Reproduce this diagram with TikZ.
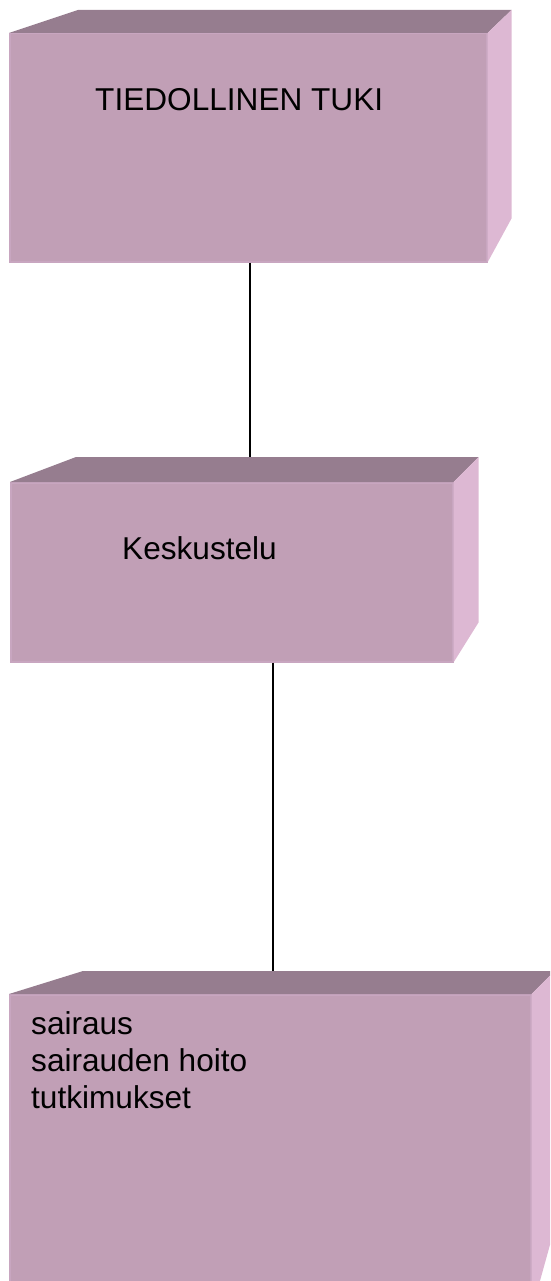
\documentclass[tikz,border=0pt]{standalone}
\usepackage{fontspec}
\setmainfont{Liberation Sans}
\usepackage{xcolor}
\definecolor{fronte}{HTML}{C19FB6}
\definecolor{sopra}{HTML}{967D8F}
\definecolor{lato}{HTML}{DDB8D3}
\definecolor{bordo}{HTML}{C8A6C0}
\tikzset{
    faccia/.style={
        fill=fronte, draw=bordo, line width=1.5pt,
        inner sep=0pt, anchor=north west
    },
    testo/.style={
        inner sep=0pt, anchor=base west,
        font=\fontsize{31.6}{37}\selectfont
    },
    linea/.style={black, line width=1.3pt}
}
% scatola 3D: #1 nodo, #2 dx angolo sinistro, #3 profondita, #4 altezza faccia sopra, #5 salto lato
\newcommand{\scatola}[5]{%
    \fill[sopra] (#1.north west) -- ++(#2,-#4)
        -- ([shift={(#3,-#4)}]#1.north east) -- (#1.north east) -- cycle;
    \fill[lato] (#1.north east) -- ([shift={(#3,-#4)}]#1.north east)
        -- ([shift={(#3,-#5)}]#1.south east) -- (#1.south east) -- cycle;
}

\begin{document}
\begin{tikzpicture}[x=1pt, y=-1pt]

\useasboundingbox (0,0) rectangle (550,1281);
\clip (0,0) rectangle (550,1281);

% Facce frontali
\node[faccia, minimum width=477pt, minimum height=228pt] (tieto) at (9,33) {};
\node[faccia, minimum width=442pt, minimum height=179pt] (keskus) at (10,482) {};
\node[faccia, minimum width=521pt, minimum height=316pt] (aiheet) at (9,994) {};

% Linee di collegamento (sotto le facce sopra)
\coordinate (k1) at (250,457);
\coordinate (k2) at (273,971);
\draw[linea] (tieto.south -| k1) -- (k1);
\draw[linea] (keskus.south -| k2) -- (k2);

% Sopra e lato
\scatola{tieto}{69}{24}{23}{44}
\scatola{keskus}{66}{25}{25}{40}
\scatola{aiheet}{74}{23}{23}{83}

% Testi
\node[testo] (t1) at (95,111) {TIEDOLLINEN TUKI};
\node[testo] (t2) at (122,559) {Keskustelu};
\node[testo] (t3) at (31,1034) {sairaus};
\node[testo] (t4) at (31,1071) {sairauden hoito};
\node[testo] (t5) at (31,1108) {tutkimukset};

\end{tikzpicture}
\end{document}
